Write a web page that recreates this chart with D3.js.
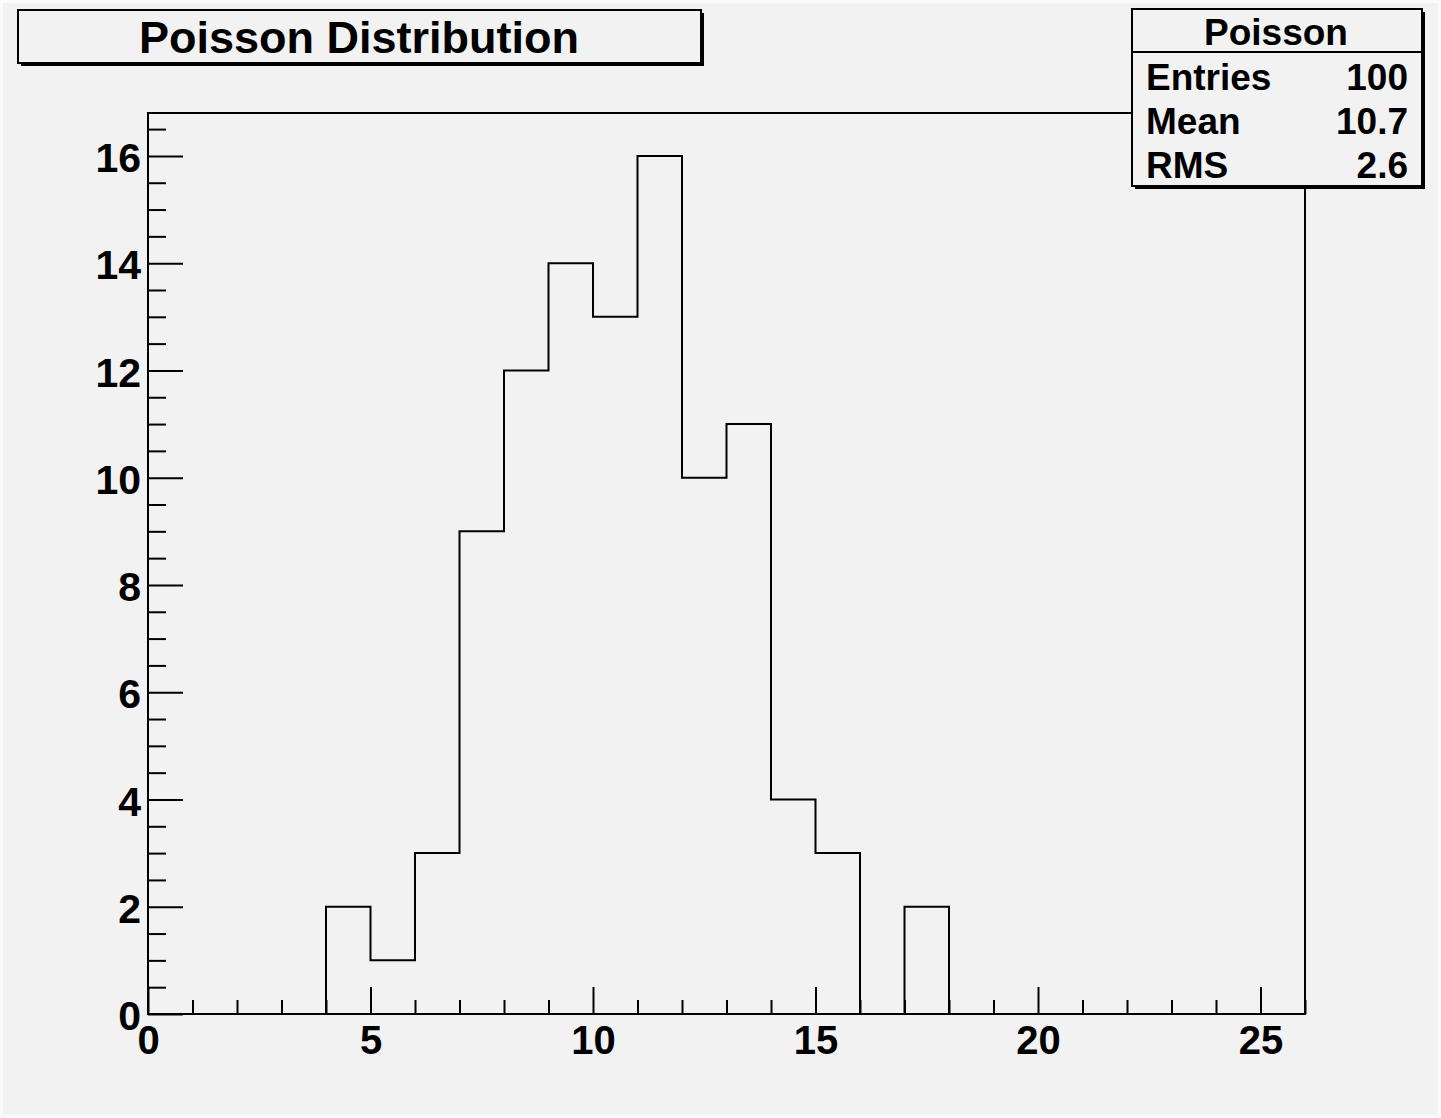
<!DOCTYPE html>
<html>
<head>
<meta charset="utf-8">
<script src="https://cdn.jsdelivr.net/npm/d3@7"></script>
<style>
  html, body { margin: 0; padding: 0; background: #fbfbfb; }
  svg { display: block; }
  text { font-family: "Liberation Sans", Arial, Helvetica, sans-serif; font-weight: bold; fill: #000; }
</style>
</head>
<body>
<svg id="chart" width="1441" height="1118"></svg>
<script>
// Histogram contents: unit-wide bins from 0 to 26
const binEdges = d3.range(0, 27);
const binCounts = [0, 0, 0, 0, 2, 1, 3, 9, 12, 14, 13, 16, 10, 11, 4, 3, 0, 2, 0, 0, 0, 0, 0, 0, 0, 0];
const xMajorTicks = [0, 5, 10, 15, 20, 25];
const yMajorTicks = [0, 2, 4, 6, 8, 10, 12, 14, 16];
const titleText = "Poisson Distribution";
const statsTitle = "Poisson";
const statsLabels = ["Entries", "Mean", "RMS"];
const statsValues = ["100", "10.7", "2.6"];

const svg = d3.select("#chart");
const W = 1441, H = 1118;
const frame = { left: 148, right: 1305, top: 113, bottom: 1014 };

// canvas
svg.append("rect").attr("x", 3).attr("y", 3).attr("width", W - 6).attr("height", H - 6)
  .attr("fill", "#f2f2f2");

const yMax = d3.max(binCounts) * 1.05;
const x = d3.scaleLinear().domain([0, 26]).range([frame.left, frame.right]);
const y = d3.scaleLinear().domain([0, yMax]).range([frame.bottom, frame.top]);

// plot frame
svg.append("rect")
  .attr("x", frame.left).attr("y", frame.top)
  .attr("width", frame.right - frame.left).attr("height", frame.bottom - frame.top)
  .attr("fill", "none").attr("stroke", "#000").attr("stroke-width", 2);

// histogram outline
const pts = binCounts.map((c, i) => [binEdges[i], c]);
pts.push([binEdges[binEdges.length - 1], binCounts[binCounts.length - 1]]);
const step = d3.line().x(d => x(d[0])).y(d => y(d[1])).curve(d3.curveStepAfter);
svg.append("path")
  .attr("d", step(pts))
  .attr("fill", "none").attr("stroke", "#000").attr("stroke-width", 2);

// y axis: major + minor ticks pointing into the frame
const yMinor = d3.range(0, yMax, 0.5).filter(v => v % 2 !== 0);
svg.append("g").attr("transform", `translate(${frame.left},0)`)
  .call(d3.axisLeft(y).tickValues(yMinor).tickSizeInner(-18).tickSizeOuter(0).tickFormat(""))
  .call(g => g.select(".domain").remove())
  .call(g => g.selectAll("line").attr("stroke", "#000").attr("stroke-width", 2));
const yAx = svg.append("g").attr("transform", `translate(${frame.left},0)`)
  .call(d3.axisLeft(y).tickValues(yMajorTicks).tickSizeInner(-35).tickSizeOuter(0).tickPadding(7).tickFormat(d3.format("d")))
  .call(g => g.select(".domain").remove());
yAx.selectAll("line").attr("stroke", "#000").attr("stroke-width", 2);
yAx.selectAll("text").attr("font-size", 41).attr("font-family", null).attr("dy", "0.38em");

// x axis
const xMinor = d3.range(0, 27).filter(v => v % 5 !== 0);
svg.append("g").attr("transform", `translate(0,${frame.bottom})`)
  .call(d3.axisBottom(x).tickValues(xMinor).tickSizeInner(-14).tickSizeOuter(0).tickFormat(""))
  .call(g => g.select(".domain").remove())
  .call(g => g.selectAll("line").attr("stroke", "#000").attr("stroke-width", 2));
const xAx = svg.append("g").attr("transform", `translate(0,${frame.bottom})`)
  .call(d3.axisBottom(x).tickValues(xMajorTicks).tickSizeInner(-27).tickSizeOuter(0).tickPadding(12).tickFormat(d3.format("d")))
  .call(g => g.select(".domain").remove());
xAx.selectAll("line").attr("stroke", "#000").attr("stroke-width", 2);
xAx.selectAll("text").attr("font-size", 40).attr("font-family", null);

// boxed title with drop shadow
function shadowBox(x0, y0, x1, y1) {
  svg.append("rect").attr("x", x0 + 3).attr("y", y0 + 3).attr("width", x1 - x0).attr("height", y1 - y0)
    .attr("fill", "#000");
  svg.append("rect").attr("x", x0).attr("y", y0).attr("width", x1 - x0).attr("height", y1 - y0)
    .attr("fill", "#f2f2f2").attr("stroke", "#000").attr("stroke-width", 2);
}
shadowBox(18, 10, 701, 63);
svg.append("text").attr("x", 359).attr("y", 53).attr("text-anchor", "middle")
  .attr("font-size", 45).text(titleText);

// statistics box
shadowBox(1132, 9, 1422, 186);
svg.append("line").attr("x1", 1132).attr("x2", 1422).attr("y1", 52).attr("y2", 52)
  .attr("stroke", "#000").attr("stroke-width", 2);
svg.append("text").attr("x", 1276).attr("y", 45).attr("text-anchor", "middle")
  .attr("font-size", 37).text(statsTitle);
const rowY = [90, 134, 178];
statsLabels.forEach((lab, i) => {
  svg.append("text").attr("x", 1146).attr("y", rowY[i]).attr("font-size", 37).text(lab);
  svg.append("text").attr("x", 1408).attr("y", rowY[i]).attr("text-anchor", "end")
    .attr("font-size", 37).text(statsValues[i]);
});
</script>
</body>
</html>
